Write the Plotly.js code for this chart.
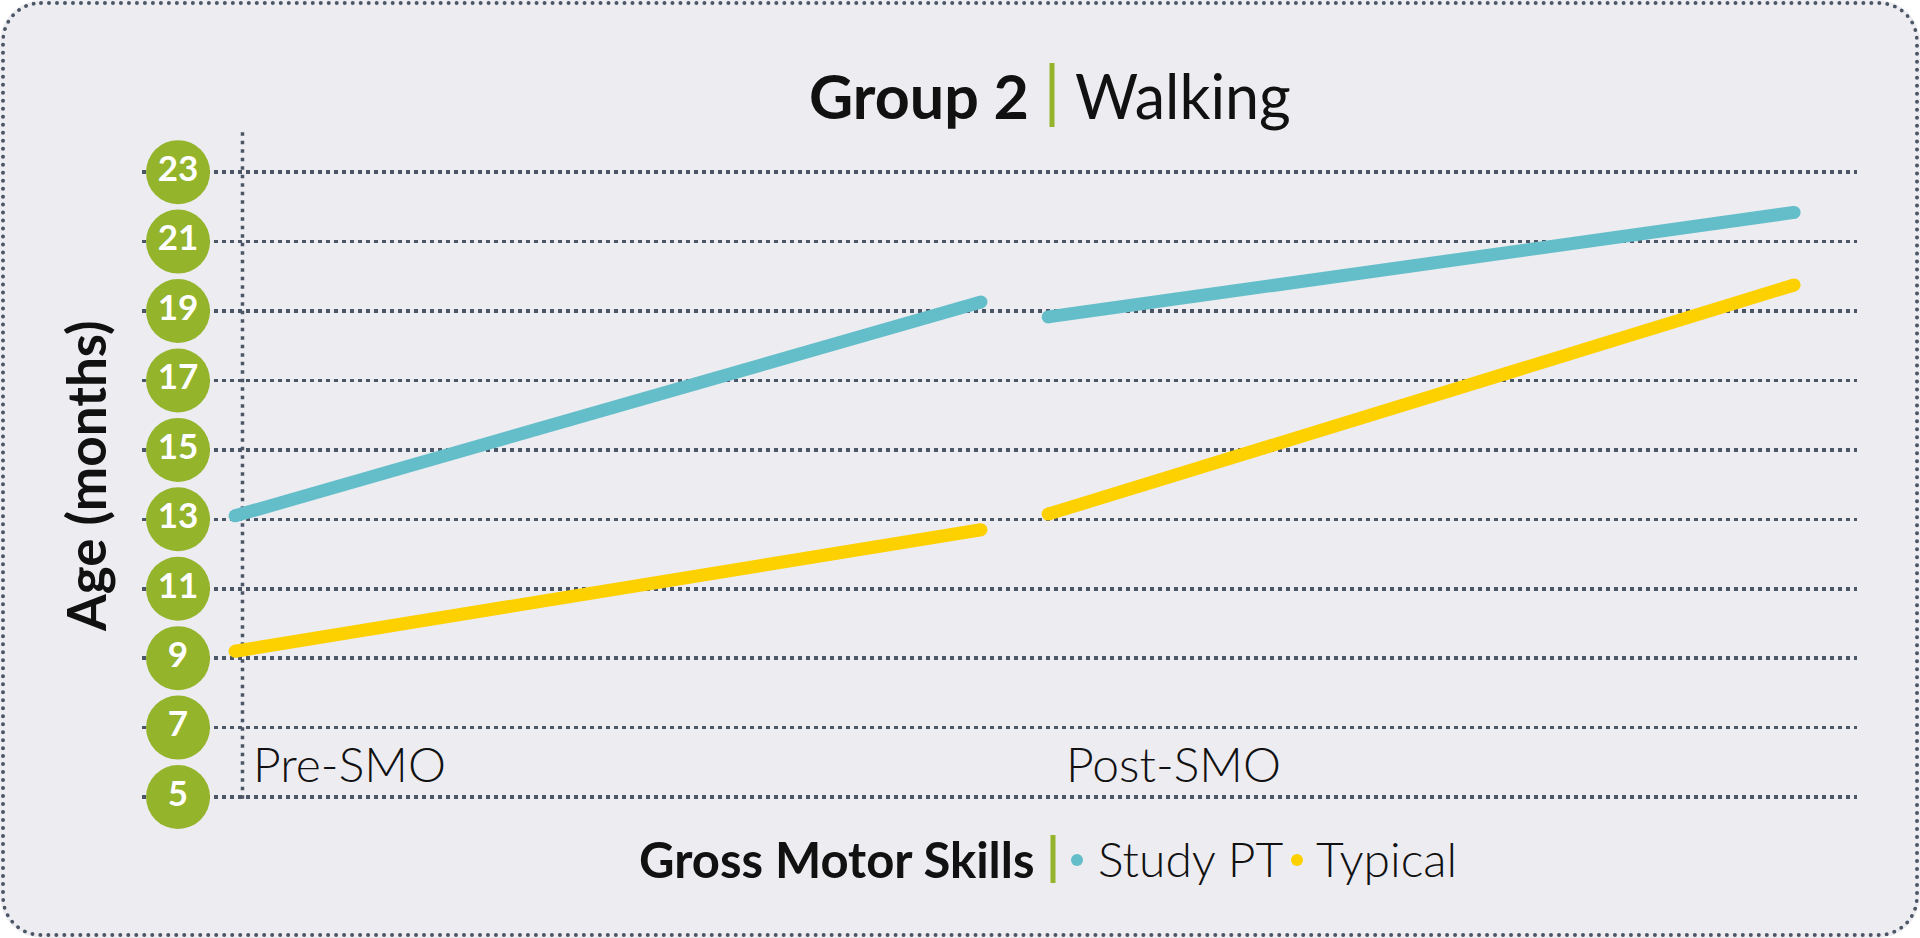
<!DOCTYPE html>
<html>
<head>
<meta charset="utf-8">
<script src="https://cdn.plot.ly/plotly-3.0.1.min.js"></script>
<style>
  body { margin: 0; background: #ffffff; }
  #wrap { position: relative; width: 1920px; height: 938px; background: #edecf1; border-radius: 42px; overflow: hidden; }
  #wrap::after { content: ''; position: absolute; left: 1px; top: 1px; right: 1px; bottom: 1px;
                 border: 4px dotted #4b5666; border-radius: 40px; pointer-events: none; }
  #chart { width: 1920px; height: 938px; }
</style>
</head>
<body>
<div id="wrap"><div id="chart"></div></div>
<script>
  const categories = ['Pre-SMO', 'Post-SMO'];
  const seriesNames = ['Study PT', 'Typical'];
  // start / end position of the pre and post segments on the time axis
  const segmentX = [[0, 1], [1.09, 2.09]];
  // age in months at segment start / end
  const studyPT = [[13.1, 19.26], [18.83, 21.84]];
  const typical = [[9.2, 12.7], [13.15, 19.75]];
  const tickVals = [5, 7, 9, 11, 13, 15, 17, 19, 21, 23];
  const tickLabels = ['5', '7', '9', '11', '13', '15', '17', '19', '21', '23'];

  const teal = '#64bec9';
  const yellow = '#fdd000';
  const green = '#94b42b';
  const dots = '#4b5666';
  const ink = '#111111';
  const font = 'Lato, "Open Sans", sans-serif';

  // plot area in pixels, used for placing the free text
  const L = 142, R = 1857, T = 127, B = 804;
  const px = x => (x - L) / (R - L);
  const py = y => (B - y) / (B - T);

  function segTrace(vals, color, name) {
    return {
      name: name,
      x: [segmentX[0][0], segmentX[0][1], null, segmentX[1][0], segmentX[1][1]],
      y: [vals[0][0], vals[0][1], null, vals[1][0], vals[1][1]],
      mode: 'lines+markers',
      connectgaps: false,
      line: { color: color, width: 13 },
      marker: { color: color, size: 13 },
      cliponaxis: false,
      hoverinfo: 'skip'
    };
  }

  let badges = {
    x: tickVals.map(() => -0.0764),
    y: tickVals,
    text: tickLabels,
    mode: 'markers+text',
    marker: { color: green, size: 64, line: { width: 0 } },
    textposition: 'middle center',
    textfont: { family: font, size: 35, color: '#ffffff', weight: 700 },
    cliponaxis: false,
    hoverinfo: 'skip'
  };

  let traces = [badges, segTrace(studyPT, teal, seriesNames[0]), segTrace(typical, yellow, seriesNames[1])];

  let annotations = [
    { text: 'Group 2', x: px(1031), xanchor: 'right', y: py(96), yanchor: 'middle',
      font: { family: font, size: 61, color: ink, weight: 700 } },
    { text: 'Walking', x: px(1073), xanchor: 'left', y: py(96), yanchor: 'middle',
      font: { family: font, size: 61, color: ink, weight: 400 } },
    { text: 'Age (months)', x: px(85), y: py(477), textangle: -90, xanchor: 'center', yanchor: 'middle',
      font: { family: font, size: 53, color: ink, weight: 700 } },
    { text: 'Gross Motor Skills', x: px(1037), xanchor: 'right', y: py(859), yanchor: 'middle',
      font: { family: font, size: 49, color: ink, weight: 700 } },
    { text: seriesNames[0], x: px(1096), xanchor: 'left', y: py(859), yanchor: 'middle',
      font: { family: font, size: 48, color: ink, weight: 300 } },
    { text: seriesNames[1], x: px(1314), xanchor: 'left', y: py(859), yanchor: 'middle',
      font: { family: font, size: 48, color: ink, weight: 300 } }
  ];
  categories.forEach((c, i) => {
    annotations.push({ text: c, xref: 'x', x: segmentX[i][0], xshift: 16, xanchor: 'left',
      yref: 'paper', y: py(763), yanchor: 'middle',
      font: { family: font, size: 48, color: ink, weight: 300 } });
  });
  annotations.forEach(a => { a.showarrow = false; a.xref = a.xref || 'paper'; a.yref = a.yref || 'paper'; });

  let shapes = [
    // dotted vertical axis
    { type: 'line', xref: 'x', yref: 'y', x0: 0.01, x1: 0.01, y0: 4.95, y1: 24.25, layer: 'below',
      line: { color: dots, width: 3.5, dash: '3.5px,5px' } },
    // green separators
    { type: 'rect', xref: 'paper', yref: 'paper', x0: px(1049.5), x1: px(1054.5), y0: py(127), y1: py(63),
      fillcolor: green, line: { width: 0 } },
    { type: 'rect', xref: 'paper', yref: 'paper', x0: px(1050.5), x1: px(1055.5), y0: py(883), y1: py(835),
      fillcolor: green, line: { width: 0 } },
    // legend dots
    { type: 'circle', xref: 'paper', yref: 'paper', x0: px(1071), x1: px(1083), y0: py(866), y1: py(854),
      fillcolor: teal, line: { width: 0 } },
    { type: 'circle', xref: 'paper', yref: 'paper', x0: px(1291), x1: px(1303), y0: py(866), y1: py(854),
      fillcolor: yellow, line: { width: 0 } }
  ];

  let layout = {
    width: 1920,
    height: 938,
    margin: { l: L, r: 1920 - R, t: T, b: 938 - B },
    paper_bgcolor: 'rgba(0,0,0,0)',
    plot_bgcolor: 'rgba(0,0,0,0)',
    showlegend: false,
    xaxis: { range: [-0.1247, 2.1743], showgrid: false, zeroline: false, showticklabels: false,
             showline: false, ticks: '', fixedrange: true },
    yaxis: { range: [4.8, 24.3], tickvals: tickVals, showticklabels: false, ticks: '',
             showgrid: true, gridcolor: dots, gridwidth: 3.5, griddash: '3.5px,4.5px',
             zeroline: false, showline: false, fixedrange: true },
    annotations: annotations,
    shapes: shapes
  };

  Plotly.newPlot('chart', traces, layout, { displayModeBar: false, staticPlot: true });
</script>
</body>
</html>
